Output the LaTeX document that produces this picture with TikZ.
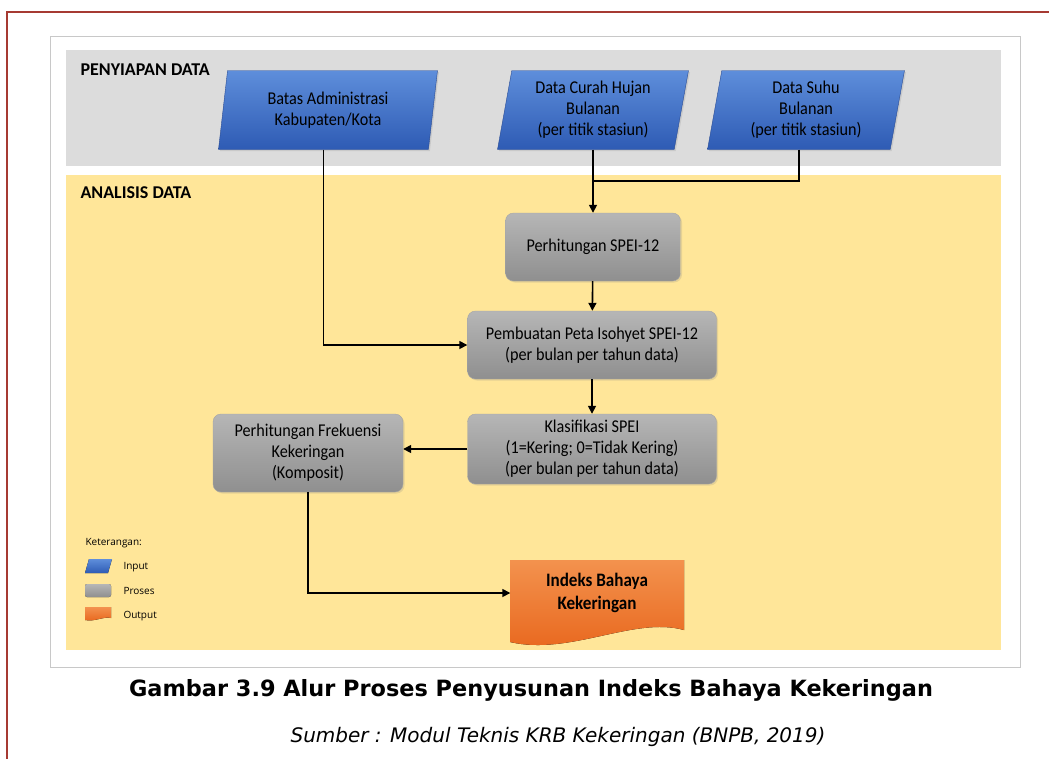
\documentclass[tikz,border=0pt]{standalone}
\usepackage{fontspec}
\setmainfont{Carlito}
\newfontfamily\boxfont[FakeStretch=0.9]{Carlito}
\newfontfamily\legfont{Open Sans}
\newfontfamily\capfont{DejaVu Sans}
\usetikzlibrary{arrows.meta,positioning,shapes.geometric,calc,shadows}
\definecolor{frameRed}{HTML}{A63A32}
\definecolor{boxLine}{HTML}{C8C8C8}
\definecolor{bandGrey}{HTML}{DCDCDC}
\definecolor{bandYel}{HTML}{FFE699}
\definecolor{inTop}{HTML}{5E8EDB}
\definecolor{inBot}{HTML}{2E5BB4}
\definecolor{inFr}{HTML}{2A4C94}
\definecolor{prTop}{HTML}{B6B6B6}
\definecolor{prBot}{HTML}{8F8F8F}
\definecolor{outTop}{HTML}{F3924E}
\definecolor{outBot}{HTML}{E8651B}
\tikzset{>={Triangle[length=8pt,width=8pt]},
  inbox/.style={trapezium,trapezium left angle=76,trapezium right angle=104,
    trapezium stretches body,top color=inTop,bottom color=inBot,draw=inFr,thin,
    align=center,font=\boxfont\fontsize{18}{21}\selectfont,minimum height=79pt,
    minimum width=219pt,inner sep=0pt,
    drop shadow={opacity=0.2,shadow xshift=1.5pt,shadow yshift=-1.5pt}},
  procbox/.style={rectangle,rounded corners=8pt,top color=prTop,bottom color=prBot,
    draw=prBot!80,thin,align=center,font=\boxfont\fontsize{18}{21}\selectfont,
    minimum height=68pt,inner sep=2pt,
    drop shadow={opacity=0.2,shadow xshift=1.5pt,shadow yshift=-1.5pt}},
  outtext/.style={align=center,font=\boxfont\fontsize{19}{23}\selectfont\bfseries,
    minimum width=173pt,inner sep=0pt},
  bandlbl/.style={anchor=west,font=\fontsize{18}{20}\selectfont\bfseries},
  leglbl/.style={anchor=west,font=\legfont\fontsize{10}{12}\selectfont},
  line/.style={line width=1.6pt,black},
  flow/.style={line,->}}
\begin{document}
\begin{tikzpicture}[x=1pt,y=-1pt]
  \useasboundingbox (0,0) rectangle (1049,758);
  % page frame and figure box
  \draw[frameRed,line width=2pt] (7,760) -- (7,12) -- (1051,12);
  \draw[boxLine,fill=white] (50,36) rectangle (1020,667);
  \fill[bandGrey] (66,50) rectangle (1001,166);
  \fill[bandYel] (66,175) rectangle (1001,650);
  \node[bandlbl] (lblprep) at (77,70) {PENYIAPAN DATA};
  \node[bandlbl] (lblanal) at (77,193) {ANALISIS DATA};

  % input data
  \node[inbox] (batas) at (328,110) {Batas Administrasi\\Kabupaten/Kota};
  \node[inbox,minimum width=191pt] (hujan) at (593,110) {Data Curah Hujan\\Bulanan\\(per titik stasiun)};
  \node[inbox,minimum width=197pt] (suhu) at (806,110) {Data Suhu\\Bulanan\\(per titik stasiun)};

  % proses
  \node[procbox,minimum width=175pt] (spei) at (593,247) {Perhitungan SPEI-12};
  \node[procbox,minimum width=249pt] (peta) at (592,345) {Pembuatan Peta Isohyet SPEI-12\\(per bulan per tahun data)};
  \node[procbox,minimum width=249pt,minimum height=70pt] (klas) at (592,449) {Klasifikasi SPEI\\(1=Kering; 0=Tidak Kering)\\(per bulan per tahun data)};
  \node[procbox,minimum width=190pt,minimum height=78pt] (frek) at (308,453) {Perhitungan Frekuensi\\Kekeringan\\(Komposit)};

  % output
  \coordinate (outc) at (597,593);
  \fill[top color=outTop,bottom color=outBot]
    ($(outc)+(-87,-33)$) -- ++(174,0) -- ++(0,70)
    .. controls +(-50,-14) and +(60,14) .. ($(outc)+(-87,49)$) -- cycle;
  \node[outtext] (hasil) at (outc) {Indeks Bahaya\\Kekeringan};

  % alur
  \coordinate (gabung) at ($(hujan.south)!0.5!(spei.north)$);
  \draw[line] (suhu.bottom side) |- (gabung);
  \draw[flow] (hujan.bottom side -| spei.north) -- (spei.north);
  \draw[flow] (batas.bottom side) |- (peta.west);
  \draw[flow] (spei) -- (peta);
  \draw[flow] (peta) -- (klas);
  \draw[flow] (klas.west) -- (klas.west -| frek.east);
  \draw[flow] (frek.south) |- (hasil.west);

  % keterangan
  \node[leglbl] (ket) at (82,543) {Keterangan:};
  \fill[top color=inTop,bottom color=inBot] (85,573) -- (108,573) -- (112,559) -- (89,559) -- cycle;
  \fill[top color=prTop,bottom color=prBot,rounded corners=2pt] (85,584) rectangle (111,597);
  \fill[top color=outTop,bottom color=outBot] (85,607) -- (111,607) -- (111,618)
    .. controls (104,616) and (95,622) .. (85,620) -- cycle;
  \node[leglbl] (kin) at (120,567) {Input};
  \node[leglbl] (kpr) at (120,591) {Proses};
  \node[leglbl] (kout) at (120,616) {Output};

  % judul
  \node[font=\capfont\bfseries\fontsize{22.4}{26}\selectfont] (judul) at (531,690)
    {Gambar 3.9 Alur Proses Penyusunan Indeks Bahaya Kekeringan};
  \node[font=\capfont\itshape\fontsize{20}{24}\selectfont] (sumber) at (558,737)
    {Sumber : Modul Teknis KRB Kekeringan (BNPB, 2019)};
\end{tikzpicture}
\end{document}
